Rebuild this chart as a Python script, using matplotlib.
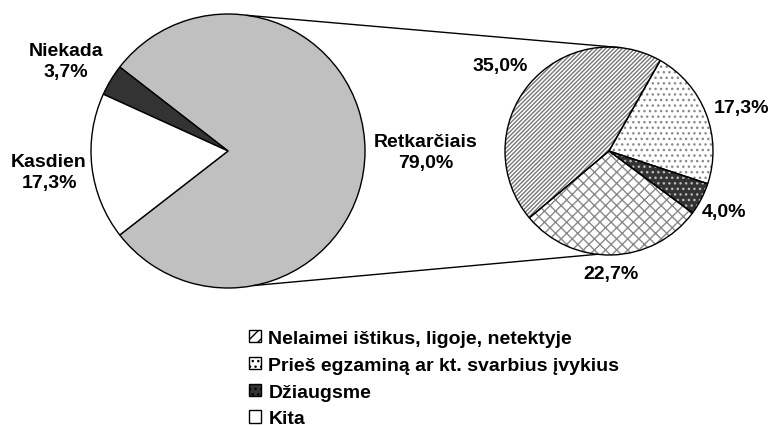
import numpy as np
import matplotlib
matplotlib.use("Agg")
import matplotlib.pyplot as plt
from matplotlib.patches import Patch

plt.rcParams['font.family'] = ['Liberation Sans', 'DejaVu Sans']
plt.rcParams['font.weight'] = 'bold'
plt.rcParams['hatch.linewidth'] = 1.0

# main pie
main_labels = ['Retkarčiais', 'Niekada', 'Kasdien']
main_values = [79.0, 3.7, 17.3]
main_text = ['79,0%', '3,7%', '17,3%']
main_colors = ['#c0c0c0', '#333333', 'white']

# breakdown of "Retkarčiais"
sub_labels = ['Nelaimei ištikus, ligoje, netektyje', 'Kita', 'Džiaugsme',
              'Prieš egzaminą ar kt. svarbius įvykius']
sub_values = [35.0, 22.7, 4.0, 17.3]
sub_text = ['35,0%', '22,7%', '4,0%', '17,3%']
sub_face = ['white', 'white', '#333333', 'white']
sub_hatch_col = ['#777777', '#8a8a8a', '#bbbbbb', '#8a8a8a']
sub_hatch = ['////////', 'xxx', '...', '...']
leg_hatch = ['///', None, '...', '...']

W, H = 771, 427
fig = plt.figure(figsize=(W / 100, H / 100), dpi=100)
ax = fig.add_axes([0, 0, 1, 1])

c1, r1 = (228, 275), 137
c2, r2 = (609, 275), 104

# left pie, gray slice centred on the right side
start1 = -main_values[0] / 100 * 360 / 2
ax.pie(main_values, colors=main_colors, startangle=start1, counterclock=True,
       center=c1, radius=r1, wedgeprops=dict(edgecolor='black', linewidth=1.0))

# right pie: hatch layer first, then outlines on top
start2 = 60.5
wedges, _ = ax.pie(sub_values, colors=sub_face, startangle=start2, counterclock=True,
                   center=c2, radius=r2, wedgeprops=dict(linewidth=0))
for w, hc, h in zip(wedges, sub_hatch_col, sub_hatch):
    w.set_edgecolor(hc)
    w.set_hatch(h)
ax.pie(sub_values, startangle=start2, counterclock=True, center=c2, radius=r2,
       wedgeprops=dict(fill=False, edgecolor='black', linewidth=1.0))

ax.set_xlim(0, W)
ax.set_ylim(0, H)
ax.set_aspect('equal')
ax.axis('off')

# connector lines
for a1, a2 in [(82, 84), (-79, -96.6)]:
    p1 = (c1[0] + r1 * np.cos(np.radians(a1)), c1[1] + r1 * np.sin(np.radians(a1)))
    p2 = (c2[0] + r2 * np.cos(np.radians(a2)), c2[1] + r2 * np.sin(np.radians(a2)))
    ax.plot([p1[0], p2[0]], [p1[1], p2[1]], color='black', lw=1.0)

fs = 14
# labels of the main pie
main_pos = [(426, H - 153), (66, H - 62), (49, H - 173)]
for lab, txt, pos in zip(main_labels, main_text, main_pos):
    ax.text(pos[0], pos[1], f'{lab}\n{txt}', ha='center', va='center',
            fontsize=fs, fontweight='bold', linespacing=1.35)

# labels of the sub pie
sub_pos = [(500, H - 67), (611, H - 275), (724, H - 213), (742, H - 108)]
for txt, pos in zip(sub_text, sub_pos):
    ax.text(pos[0], pos[1], txt, ha='center', va='center', fontsize=fs, fontweight='bold')

# legend
leg_order = [0, 3, 2, 1]
handles = []
for i in leg_order:
    handles.append(Patch(facecolor=sub_face[i], edgecolor='black',
                         hatch=leg_hatch[i], linewidth=1.0))
leg_labels = [sub_labels[i] for i in leg_order]
leg = ax.legend(handles, leg_labels, loc='upper left', bbox_to_anchor=(249 / W, 1 - 331 / H),
                bbox_transform=fig.transFigure, frameon=False, fontsize=14,
                handlelength=0.6, handleheight=0.6, handletextpad=0.4,
                labelspacing=0.5, borderpad=0, borderaxespad=0)
for t in leg.get_texts():
    t.set_fontweight('bold')

fig.savefig('out.png', dpi=100)
